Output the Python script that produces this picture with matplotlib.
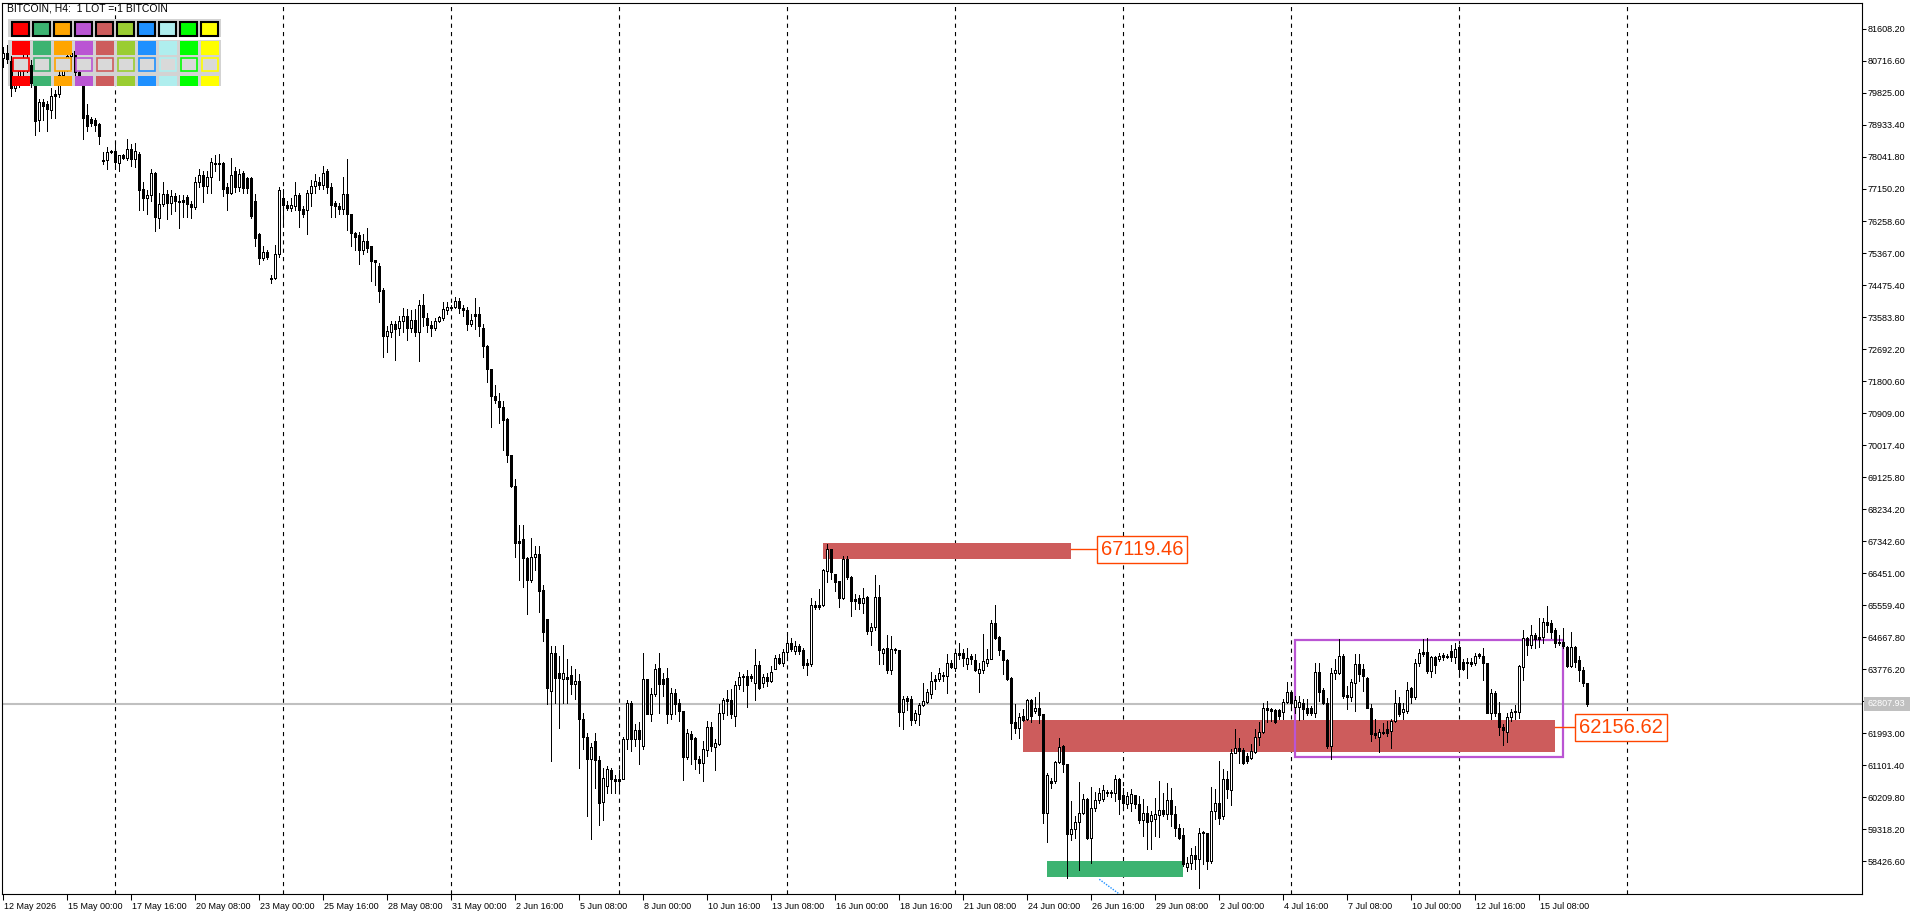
import numpy as np
import matplotlib
matplotlib.use("Agg")
import matplotlib.pyplot as plt
import matplotlib.transforms as mtransforms
from matplotlib.patches import Rectangle

# BITCOIN H4 bars, first bar = 12 May 2026 08:00
opens = [
    80800, 80950, 80705, 79959, 80108, 80450, 80700, 80600, 80108, 79064,
    79586, 79512, 79362, 79735, 79810, 80333, 80650, 80850, 81004, 80407,
    80258, 79213, 79094, 79064, 78960, 77960, 77945, 78190, 78214, 77870,
    78094, 78020, 78273, 77990, 78139, 77154, 76900, 76975, 77602, 76350,
    76722, 77020, 76751, 76945, 76826, 76796, 76915, 76736, 76647, 77348,
    77527, 77244, 77497, 77870, 77870, 77870, 77199, 77050, 77646, 77199,
    77602, 77453, 77453, 76826, 75901, 75215, 75408, 74650, 74663, 75334,
    76900, 76706, 76632, 76677, 76975, 76587, 76557, 77050, 77229, 77348,
    77274, 77646, 77199, 76751, 76677, 76602, 77005, 76453, 75931, 75856,
    75438, 75707, 75558, 75185, 75006, 74350, 73051, 73170, 73394, 73275,
    73469, 73618, 73275, 73499, 73170, 73916, 73544, 73365, 73275, 73469,
    73544, 73767, 73842, 73872, 74036, 73842, 73767, 73394, 73662, 73662,
    73290, 72767, 72126, 71380, 71231, 71082, 70739, 69739, 68873, 67277,
    67396, 66859, 66262, 66904, 66979, 65980, 65163, 63166, 64234, 63677,
    63491, 63491, 63612, 63352, 63445, 62395, 61894, 61281, 61773, 61244,
    60073, 60519, 60965, 60724, 60659, 60724, 61838, 62822, 61838, 62070,
    61634, 63491, 62516, 63092, 63816, 63491, 63538, 62516, 63120, 62822,
    62609, 61327, 61958, 61866, 61262, 61169, 61522, 62172, 61615, 61680,
    62562, 62934, 62906, 62469, 63324, 63584, 63584, 63584, 63379, 63881,
    63398, 63565, 63445, 63788, 64095, 63956, 64253, 64513, 64280, 64420,
    64299, 63890, 63909, 65553, 65516, 65553, 66509, 67132, 66416, 66231,
    65766, 66853, 66351, 65674, 65766, 65609, 65785, 64838, 64958, 65785,
    64234, 64373, 63751, 64345, 64299, 62581, 62980, 62934, 62358, 62516,
    62767, 62859, 63073, 63445, 63491, 63603, 63584, 63956, 63816, 64160,
    64215, 63909, 64141, 64030, 63677, 63751, 63956, 64067, 65070, 64670,
    64308, 64030, 63538, 62302, 62144, 62469, 62377, 62906, 62609, 62702,
    62516, 59758, 60612, 60659, 61188, 61634, 61142, 59173, 59330, 59516,
    59776, 60148, 59080, 59916, 60129, 60148, 60310, 60330, 60315, 60705,
    60260, 60010, 60036, 60260, 60010, 59572, 59776, 59544, 59609, 59702,
    59850, 59730, 60129, 59730, 59358, 59145, 58262, 58383, 58587, 58476,
    59219, 59219, 58430, 59823, 60055, 59683, 60705, 60408, 61448, 61587,
    61522, 61355, 61308, 61466, 61894, 62024, 62702, 62674, 62637, 62637,
    62581, 62860, 63138, 62729, 62729, 62841, 62702, 62702, 62562, 63695,
    63194, 62822, 61634, 63658, 63677, 64141, 63045, 63008, 63398, 63909,
    63770, 63538, 62702, 62005, 61894, 62024, 62098, 62051, 62330, 62822,
    62581, 62609, 63259, 63008, 63955, 64187, 64253, 63723, 64123, 64048,
    64123, 64141, 64280, 64123, 64401, 63974, 63937, 63974, 63937, 64141,
    64139, 63935, 62561, 63118, 62542, 62152, 62031, 62431, 62589, 62589,
    63842, 64632, 64446, 64725, 64604, 64678, 65096, 65050, 64864, 64492,
    64539, 64400, 63861, 64400, 64028, 63749, 63380,
]
highs = [
    81100, 81150, 80854, 80250, 80600, 80900, 80950, 80750, 80200, 79650,
    79661, 79600, 79959, 79900, 80500, 80800, 81000, 81050, 81100, 80450,
    80300, 79512, 79150, 79138, 78990, 78169, 78318, 78250, 78393, 78094,
    78130, 78542, 78393, 78422, 78169, 77348, 77124, 77721, 77620, 77050,
    77348, 77124, 77124, 77050, 76975, 76975, 76975, 76826, 77497, 77721,
    77646, 77646, 78020, 78094, 78124, 77900, 77304, 78020, 77751, 77721,
    77646, 77497, 77497, 77005, 75931, 75558, 75450, 74767, 75588, 77199,
    77154, 76826, 76900, 77348, 77050, 76677, 77124, 77393, 77572, 77497,
    77796, 77721, 77304, 76826, 76751, 77497, 77990, 76453, 75960, 75960,
    75901, 76050, 75558, 75185, 75080, 74394, 73320, 73469, 73469, 73618,
    73842, 73797, 73767, 73797, 74066, 74215, 73693, 73469, 73544, 73618,
    73991, 73991, 73916, 74140, 74110, 73916, 73872, 73662, 74110, 73872,
    73394, 72798, 72126, 71678, 71455, 71231, 70783, 69739, 69068, 67799,
    67799, 66904, 67426, 67202, 67202, 66110, 65163, 64420, 64420, 64141,
    64438, 64048, 63862, 63770, 63630, 62562, 62005, 61708, 62005, 61355,
    61030, 61076, 61030, 60817, 60965, 61894, 62906, 62887, 62237, 62302,
    64234, 63510, 63259, 63909, 64215, 63677, 63816, 63259, 63213, 62934,
    62609, 62098, 62051, 61894, 61355, 61773, 62330, 62302, 61819, 62795,
    62980, 63194, 63213, 63445, 63695, 63630, 63751, 63630, 64345, 64001,
    63630, 63677, 63862, 64160, 64187, 64327, 64698, 64652, 64559, 64480,
    64373, 64048, 65766, 65674, 65998, 66574, 67252, 67132, 66416, 66231,
    66927, 66927, 66370, 65859, 65831, 66045, 65813, 65070, 66389, 66110,
    64373, 64717, 64698, 64373, 64299, 63027, 63027, 63027, 62637, 62841,
    63398, 63213, 63695, 63603, 63816, 63695, 64187, 64030, 64345, 64494,
    64327, 64373, 64187, 64187, 63956, 64745, 64327, 65144, 65553, 64698,
    64308, 64067, 63565, 62794, 62562, 62655, 62952, 62952, 63008, 63138,
    62516, 60891, 60751, 61216, 61866, 61671, 61142, 60101, 59683, 60631,
    60300, 60194, 60501, 60352, 60450, 60550, 60400, 60420, 60817, 60751,
    60473, 60350, 60426, 60280, 60250, 60148, 59962, 59823, 60194, 60659,
    60333, 60612, 60473, 59962, 59450, 59358, 58550, 58801, 58848, 59358,
    59266, 59219, 60501, 60426, 61216, 61002, 60937, 61559, 62098, 61866,
    61587, 61448, 61680, 62117, 62302, 62822, 62887, 62702, 62655, 62674,
    62952, 63417, 63166, 63027, 63027, 62934, 62934, 62750, 63955, 63937,
    63259, 62980, 63816, 64048, 64624, 64187, 63305, 63491, 64187, 64187,
    63909, 63565, 62795, 62377, 62098, 62284, 62330, 62377, 63194, 63008,
    62822, 63417, 63287, 64067, 64327, 64605, 64652, 64141, 64141, 64215,
    64234, 64200, 64438, 64512, 64438, 64048, 64095, 64095, 64215, 64234,
    64353, 63954, 63211, 63173, 62867, 62245, 62542, 62654, 62774, 63889,
    64864, 64678, 65003, 64790, 65189, 65189, 65533, 65143, 64910, 64725,
    64910, 64420, 64818, 64418, 64140, 63844, 63398,
]
lows = [
    80550, 80650, 79735, 79880, 80000, 80300, 80400, 80000, 78646, 78766,
    79064, 78766, 79138, 79138, 79700, 80200, 80450, 80500, 80300, 80200,
    78542, 78766, 78900, 78766, 78393, 77840, 77721, 78140, 77721, 77646,
    77980, 77945, 77796, 77751, 76557, 76557, 76453, 76826, 75975, 76050,
    76677, 76304, 76453, 76528, 76050, 76378, 76378, 76350, 76602, 77199,
    76796, 77050, 77050, 77646, 77393, 76945, 76572, 77005, 77080, 77094,
    77050, 77050, 76348, 75558, 75066, 75185, 75200, 74543, 74633, 75259,
    76155, 76557, 76528, 76557, 76080, 76378, 75886, 76677, 77050, 77154,
    77154, 77050, 76378, 76378, 76453, 76453, 76006, 75558, 75438, 75066,
    75334, 75408, 74588, 74469, 73991, 72469, 72618, 73021, 72394, 73096,
    73170, 72947, 73170, 73051, 72350, 73320, 73170, 73051, 73215, 73439,
    73513, 73662, 73767, 73842, 73693, 73618, 73215, 73320, 73245, 73066,
    72469, 71783, 70530, 71186, 70634, 69888, 69545, 68843, 66904, 66262,
    66054, 65308, 66203, 66530, 65367, 64559, 62795, 61216, 62841, 62144,
    62841, 62822, 63073, 62934, 61030, 61541, 59683, 59033, 60473, 59433,
    59572, 60333, 60333, 60333, 60333, 60705, 61541, 61494, 61634, 61123,
    61541, 62516, 62330, 63027, 62562, 63027, 62284, 62377, 62516, 62330,
    60686, 61262, 61123, 60983, 60891, 60659, 61355, 61494, 60965, 61652,
    62377, 62488, 62423, 62191, 63231, 63166, 62729, 63450, 62915, 63213,
    63287, 63305, 63417, 63770, 63909, 63862, 64095, 64280, 64187, 64200,
    63816, 63603, 63862, 65460, 65441, 65534, 66203, 66277, 65952, 65516,
    65739, 66296, 65255, 65441, 65460, 65348, 64745, 64438, 64866, 63909,
    63909, 63677, 63630, 64215, 62191, 62098, 62637, 62210, 62265, 62210,
    62748, 62822, 62980, 63231, 63445, 63445, 63120, 63816, 63723, 64067,
    63862, 63788, 63909, 63723, 63138, 63677, 63862, 64048, 64624, 64160,
    63630, 63472, 61838, 62005, 61866, 62330, 62358, 62302, 62562, 62284,
    59498, 58959, 60473, 60612, 61169, 60909, 57965, 59000, 59080, 58179,
    59730, 59052, 58364, 59823, 60050, 60100, 60250, 60200, 60101, 59730,
    59916, 59900, 59823, 59900, 59500, 59126, 58755, 58755, 59126, 59110,
    59683, 59590, 59405, 59126, 59033, 58290, 58150, 58197, 58215, 57687,
    58336, 58197, 58383, 59590, 59451, 59590, 60194, 59981, 61448, 61169,
    61123, 61169, 61281, 61429, 61652, 62005, 62302, 62330, 62265, 62377,
    62377, 62822, 62748, 62562, 62358, 62377, 62488, 62500, 62451, 62887,
    62795, 61587, 61262, 63491, 63630, 62980, 62674, 62887, 62609, 63445,
    63166, 62702, 61773, 61866, 61466, 61958, 61912, 61587, 62302, 62469,
    62377, 62562, 62822, 62934, 63862, 64141, 63677, 63565, 63677, 64001,
    64030, 64080, 64001, 63955, 63584, 63751, 63538, 63862, 63881, 64095,
    63471, 62542, 62375, 62468, 61938, 61660, 61753, 62338, 62375, 62403,
    63471, 64167, 64353, 64353, 64381, 64492, 64817, 64632, 64400, 64446,
    64350, 63842, 63842, 63842, 63453, 63305, 62748,
]
closes = [
    80950, 80780, 79959, 80108, 80450, 80700, 80600, 80108, 79034, 79586,
    79450, 79392, 79735, 79810, 80333, 80650, 80850, 80950, 80407, 80288,
    79138, 78915, 78990, 78945, 78616, 77930, 78169, 78200, 77900, 78094,
    78020, 78273, 77990, 78214, 77124, 76900, 76975, 77602, 76378, 76722,
    77020, 76751, 76945, 76826, 76796, 76850, 76722, 76647, 77348, 77527,
    77244, 77497, 77900, 77840, 77840, 77154, 77050, 77527, 77199, 77572,
    77169, 77169, 76408, 75782, 75215, 75408, 75259, 74630, 75334, 77124,
    76706, 76632, 76706, 76975, 76557, 76453, 77050, 77229, 77378, 77274,
    77602, 77199, 76706, 76677, 76602, 77005, 76453, 75931, 75826, 75438,
    75707, 75513, 75140, 75110, 74320, 73051, 73200, 73394, 73245, 73469,
    73618, 73275, 73513, 73170, 73916, 73573, 73365, 73275, 73469, 73573,
    73797, 73872, 73856, 74036, 73842, 73767, 73394, 73513, 73618, 73320,
    72767, 72126, 71380, 71276, 71082, 70709, 69739, 68873, 67277, 67352,
    66859, 66262, 66904, 66979, 65964, 64810, 63259, 64234, 63537, 63537,
    63677, 63565, 63352, 63445, 62377, 61894, 61281, 61615, 61244, 60036,
    60751, 61002, 60724, 60659, 60724, 61838, 62822, 61838, 62070, 61838,
    63491, 62516, 63092, 63788, 63352, 63352, 62516, 63120, 62795, 62609,
    61327, 62005, 61838, 61262, 61169, 61559, 62172, 61634, 61708, 62562,
    62906, 62887, 62516, 63324, 63565, 63556, 63324, 63538, 63881, 63259,
    63565, 63445, 63695, 64095, 63956, 64253, 64513, 64327, 64420, 64280,
    63890, 63956, 65553, 65516, 65571, 66537, 67132, 66481, 66203, 65766,
    66853, 66351, 65674, 65739, 65609, 65766, 64838, 64958, 65785, 64299,
    64345, 63751, 64345, 64299, 62581, 62952, 62887, 62358, 62544, 62767,
    62887, 63138, 63445, 63510, 63658, 63584, 63956, 63844, 64215, 64215,
    64095, 64095, 64048, 63751, 63770, 64001, 64067, 65070, 64652, 64308,
    64030, 63510, 62284, 62144, 62451, 62358, 62906, 62469, 62702, 62488,
    59758, 60817, 60659, 61188, 61615, 61142, 59173, 59330, 59516, 59776,
    60148, 59080, 59916, 60129, 60333, 60408, 60330, 60315, 60705, 60148,
    60036, 60241, 60287, 60010, 59572, 59776, 59516, 59702, 59730, 59850,
    59730, 60129, 59730, 59358, 59080, 58336, 58383, 58587, 58476, 59219,
    59240, 58430, 59823, 60055, 59637, 60705, 60426, 61448, 61587, 61494,
    61169, 61216, 61494, 61894, 62024, 62702, 62637, 62609, 62302, 62469,
    62860, 63138, 62822, 62915, 62860, 62674, 62562, 62562, 63695, 63138,
    62822, 61634, 63658, 63751, 64141, 63027, 63008, 63417, 63909, 63630,
    63584, 62702, 61958, 61931, 62024, 62005, 62005, 62330, 62822, 62516,
    62655, 63194, 63008, 63955, 64215, 64253, 63723, 64123, 63900, 64141,
    64160, 64123, 64123, 64345, 63788, 63788, 63974, 63909, 64141, 64187,
    63954, 62561, 63118, 62542, 62152, 62078, 62431, 62589, 62617, 63861,
    64632, 64446, 64725, 64604, 64678, 65096, 65003, 64817, 64492, 64539,
    64420, 63870, 64400, 63982, 63749, 63380, 62808,
]

date_labels = [
    "12 May 2026", "15 May 00:00", "17 May 16:00", "20 May 08:00", "23 May 00:00",
    "25 May 16:00", "28 May 08:00", "31 May 00:00", "2 Jun 16:00", "5 Jun 08:00",
    "8 Jun 00:00", "10 Jun 16:00", "13 Jun 08:00", "16 Jun 00:00", "18 Jun 16:00",
    "21 Jun 08:00", "24 Jun 00:00", "26 Jun 16:00", "29 Jun 08:00", "2 Jul 00:00",
    "4 Jul 16:00", "7 Jul 08:00", "10 Jul 00:00", "12 Jul 16:00", "15 Jul 08:00",
]
week_starts = [28, 70, 112, 154, 196, 238, 280, 322, 364, 406]   # Sunday 00:00 bars

last_price = 62807.93
supply_top = (205, 267, 66834, 67280, 67119.46)   # bar from, bar to, low, high, label
supply_low = (255, 388, 61466, 62349, 62156.62)
demand_zone = (261, 295, 57984, 58420)
range_box = (323, 390, 61329, 64580)
panel_colors = ['#FF0000', '#3CB371', '#FFA500', '#BA55D3', '#CD5C5C',
                '#9ACD32', '#1E90FF', '#AFEEEE', '#00FF00', '#FFFF00']

o = np.array(opens, float)
h = np.array(highs, float)
l = np.array(lows, float)
c = np.array(closes, float)
x = np.arange(len(c))

W, H = 1920, 915
plt.rcParams['font.family'] = ['Liberation Sans', 'DejaVu Sans']
plt.rcParams['lines.scale_dashes'] = False

fig = plt.figure(figsize=(W / 100, H / 100), dpi=100)
# plot frame in pixels: x 2..1862, y 2.5..894, 4 px per bar
ax = fig.add_axes([2 / W, (H - 894) / H, 1860 / W, 891.5 / H])
ymin, ymax = 57509, 82346
ax.set_xlim(-0.125, 464.875)
ax.set_ylim(ymin, ymax)
ppx = (ymax - ymin) / 891.5          # price per pixel

# pixel transform (x from left, y from top)
px = mtransforms.Affine2D().scale(1 / W, -1 / H).translate(0, 1) + fig.transFigure

# weekly separators
for wk in week_starts:
    ax.axvline(wk, color='black', lw=0.8, ls=(0, (3, 3)), zorder=1)

# current price line
ax.axhline(last_price, color='#C0C0C0', lw=1.5, zorder=2)

# zones
for z in (supply_top, supply_low):
    ax.add_patch(Rectangle((z[0], z[2]), z[1] - z[0], z[3] - z[2],
                           facecolor='#CD5C5C', edgecolor='none', zorder=2))
ax.add_patch(Rectangle((demand_zone[0], demand_zone[2]), demand_zone[1] - demand_zone[0],
                       demand_zone[3] - demand_zone[2], facecolor='#3CB371',
                       edgecolor='none', zorder=2))
ax.add_patch(Rectangle((range_box[0], range_box[2]), range_box[1] - range_box[0],
                       range_box[3] - range_box[2], fill=False, edgecolor='#BA55D3',
                       lw=1.6, zorder=3))
ax.plot([274.2, 281], [57919, 57360], color='#1E90FF', lw=1, ls=(0, (1, 1)), zorder=3)

# price labels of the zones
for z, gap in ((supply_top, 6.6), (supply_low, 5.2)):
    ax.plot([z[1], z[1] + gap], [z[4], z[4]], color='#FF4500', lw=1, zorder=3)
    ax.text(z[1] + gap + 1.0, z[4], f"{z[4]:.2f}", fontsize=14.5, color='#FF4500',
            ha='left', va='center', zorder=9,
            bbox=dict(boxstyle='square,pad=0.2', facecolor='white',
                      edgecolor='#FF4500', lw=1))

# indicator panel background (under candles)
ax.add_patch(Rectangle((8, 19), 213, 67, transform=px, facecolor='#D3D3D3',
                       edgecolor='none', clip_on=False, zorder=4))
ax.add_patch(Rectangle((8, 37), 213, 2.5, transform=px, facecolor='white',
                       edgecolor='none', clip_on=False, zorder=4))

# candles: 1 px wick, 3 px body, white interior for rising bars
up = c >= o
bot = np.minimum(o, c)
top = np.maximum(np.maximum(o, c), bot + ppx)
ax.vlines(x, l, h, color='black', lw=0.72, zorder=5, antialiased=False)
ax.vlines(x, bot, top, color='black', lw=2.16, zorder=6, antialiased=False,
          capstyle='butt')
hollow = up & (top - bot > 2.5 * ppx)
ax.vlines(x[hollow], bot[hollow] + ppx, top[hollow] - ppx, color='white', lw=0.72,
          zorder=7, antialiased=False, capstyle='butt')

# colour swatches (over candles)
for k, col in enumerate(panel_colors):
    x0 = 12 + 21 * k
    ax.add_patch(Rectangle((x0, 22), 16.5, 14, transform=px, facecolor=col,
                           edgecolor='black', lw=1.5, clip_on=False, zorder=8))
    ax.add_patch(Rectangle((x0, 40.5), 18, 14.5, transform=px, facecolor=col,
                           edgecolor='none', clip_on=False, zorder=8))
    ax.add_patch(Rectangle((x0 + 0.6, 58), 16.8, 13.4, transform=px, facecolor='#D9D9D9',
                           edgecolor=col, lw=1.2, clip_on=False, zorder=8))
    ax.add_patch(Rectangle((x0, 76), 18, 9.5, transform=px, facecolor=col,
                           edgecolor='none', clip_on=False, zorder=8))

ax.text(7, 8.5, "BITCOIN, H4:  1 LOT = 1 BITCOIN", transform=px, fontsize=7.5,
        va='center', ha='left', color='black', zorder=9)

# axes styling
for sp in ax.spines.values():
    sp.set_color('black')
    sp.set_linewidth(0.8)

yt = np.arange(58426.6, 81700, 891.6)
ax.yaxis.tick_right()
ax.set_yticks(yt)
ax.set_yticklabels([f"{v:.2f}" for v in yt])
ax.tick_params(axis='y', direction='out', length=3, width=0.75, pad=1,
               labelsize=6.5, colors='black')

ax.set_xticks(np.arange(len(date_labels)) * 16)
ax.set_xticklabels(date_labels, ha='left')
ax.tick_params(axis='x', direction='out', length=4, width=0.75, pad=1.5,
               labelsize=6.5, colors='black')
shift = mtransforms.ScaledTranslation(2 / 100, 0, fig.dpi_scale_trans)
for lab in ax.get_xticklabels():
    lab.set_transform(lab.get_transform() + shift)

# current price tag on the price scale
ax.add_patch(Rectangle((1864, 697), 46, 14, transform=px, facecolor='#C0C0C0',
                       edgecolor='none', clip_on=False, zorder=10))
ax.text(1867, 704, f"{last_price:.2f}", transform=px, fontsize=6.5, color='white',
        ha='left', va='center', zorder=11, clip_on=False)

fig.savefig("out.png", dpi=100, facecolor='white')
